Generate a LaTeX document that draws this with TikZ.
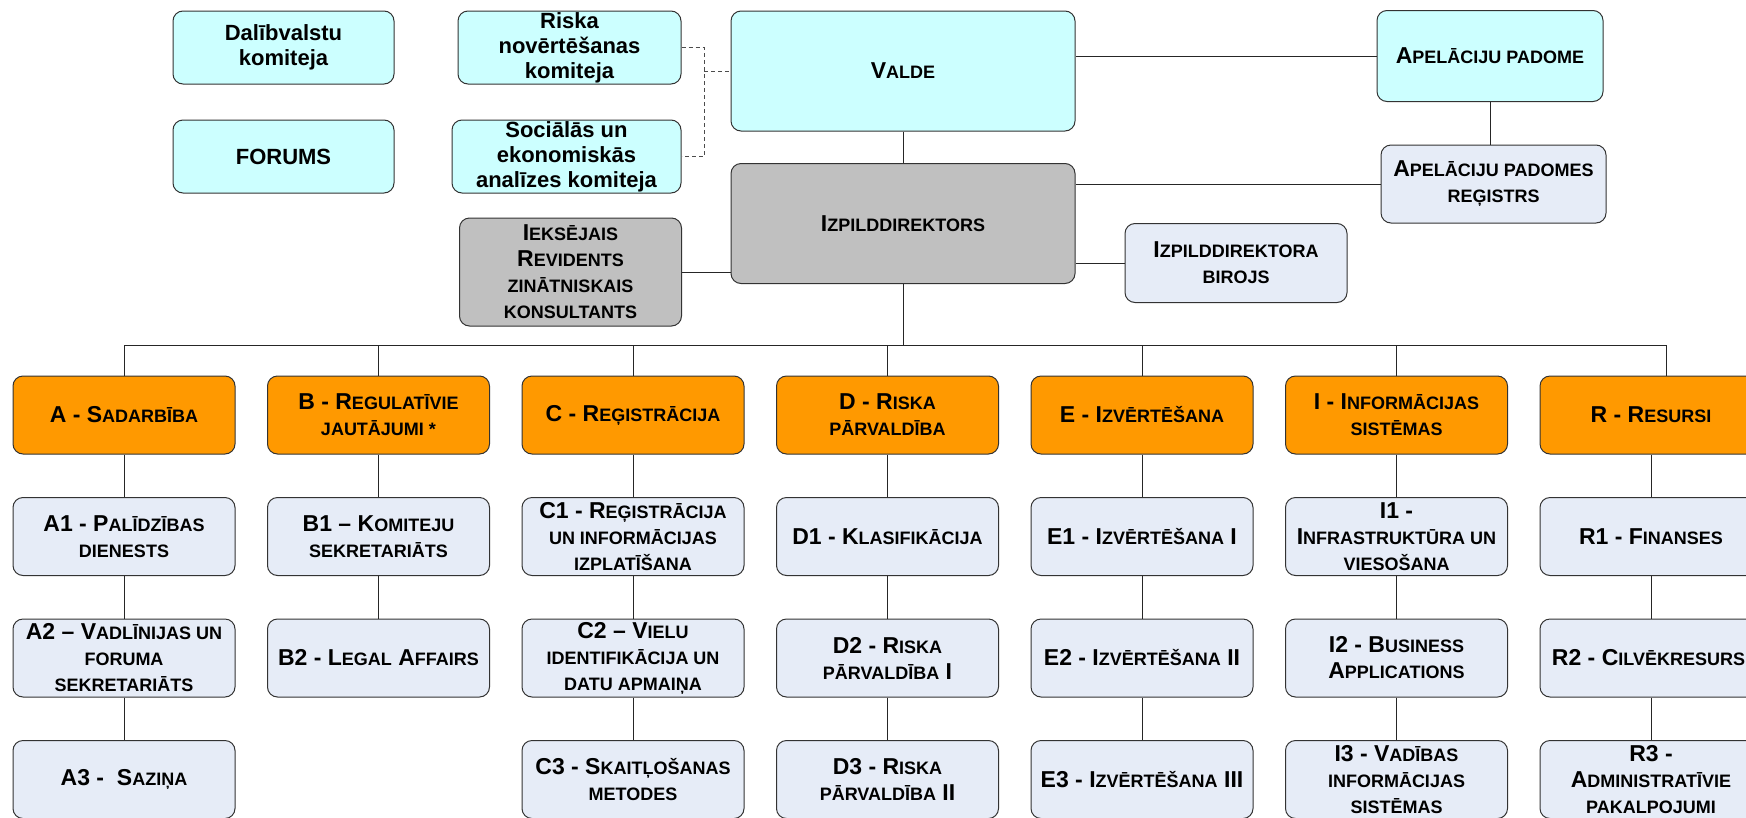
\documentclass[tikz,border=0pt]{standalone}
\usepackage{fontspec}
\setmainfont{Liberation Sans}
\usetikzlibrary{positioning}

\definecolor{padomecyan}{HTML}{CCFFFF}
\definecolor{nodalaorange}{HTML}{FF9900}
\definecolor{vienibablue}{HTML}{E6ECF7}
\definecolor{vadibagrey}{HTML}{C0C0C0}
\newcommand{\mazie}[1]{{\fontsize{18pt}{26pt}\selectfont #1}}

\begin{document}
\begin{tikzpicture}[x=1pt, y=1pt, node distance=42.5pt and 31.5pt,
    every node/.style={font=\fontsize{23pt}{26pt}\selectfont\bfseries, align=center, inner sep=0pt},
    box/.style={draw=black!80, line width=1pt, rounded corners=10pt},
    komiteja/.style={box, fill=padomecyan, minimum height=73pt, font=\fontsize{22pt}{25pt}\selectfont\bfseries},
    padome/.style={box, fill=padomecyan},
    vadiba/.style={box, fill=vadibagrey},
    birojs/.style={box, fill=vienibablue},
    nodala/.style={box, fill=nodalaorange, minimum width=222pt, minimum height=78pt},
    vieniba/.style={box, fill=vienibablue, minimum width=222pt, minimum height=78pt},
    link/.style={draw=black!85, line width=1pt},
    dashlink/.style={draw=black!70, line width=1pt, dash pattern=on 4pt off 3pt}]
    \useasboundingbox (0,0) rectangle (1746,-817);

    \node[komiteja, minimum width=221pt] (dal) at (283.5,-47.5) {Dalībvalstu\\komiteja};
    \node[komiteja, minimum width=221pt] (forums) at (283.5,-156.5) {FORUMS};
    \node[komiteja, minimum width=223pt] (riska) at (569.5,-47.5) {Riska\\novērtēšanas\\komiteja};
    \node[komiteja, minimum width=229pt] (socek) at (566.5,-156.5) {Sociālās un\\ekonomiskās\\analīzes komiteja};
    \node[padome, minimum width=344pt, minimum height=120pt] (valde) at (903,-71) {V\mazie{ALDE}};
    \node[padome, minimum width=226pt, minimum height=91pt] (apel) at (1490,-56) {A\mazie{PELĀCIJU PADOME}};
    \node[birojs, minimum width=225pt, minimum height=78pt] (apelreg) at (1493.5,-184) {A\mazie{PELĀCIJU PADOMES}\\\mazie{REĢISTRS}};
    \node[vadiba, minimum width=344pt, minimum height=120pt] (izp) at (903,-223.5) {I\mazie{ZPILDDIREKTORS}};
    \node[birojs, minimum width=222pt, minimum height=79pt] (birojs) at (1236,-263) {I\mazie{ZPILDDIREKTORA}\\\mazie{BIROJS}};
    \node[vadiba, minimum width=222pt, minimum height=108pt] (ieks) at (570.5,-272) {I\mazie{EKSĒJAIS}\\R\mazie{EVIDENTS}\\\mazie{ZINĀTNISKAIS}\\\mazie{KONSULTANTS}};

    \node[nodala] (a) at (124,-415) {A - S\mazie{ADARBĪBA}};
    \node[nodala, right=of a] (b) {B - R\mazie{EGULATĪVIE}\\\mazie{JAUTĀJUMI *}};
    \node[nodala, right=of b] (c) {C - R\mazie{EĢISTRĀCIJA}};
    \node[nodala, right=of c] (d) {D - R\mazie{ISKA}\\\mazie{PĀRVALDĪBA}};
    \node[nodala, right=of d] (e) {E - I\mazie{ZVĒRTĒŠANA}};
    \node[nodala, right=of e] (i) {I - I\mazie{NFORMĀCIJAS}\\\mazie{SISTĒMAS}};
    \node[nodala, right=of i] (r) {R - R\mazie{ESURSI}};

    \node[vieniba, below=of a] (a1) {A1 - P\mazie{ALĪDZĪBAS}\\\mazie{DIENESTS}};
    \node[vieniba, below=of a1] (a2) {A2 – V\mazie{ADLĪNIJAS UN}\\\mazie{FORUMA}\\\mazie{SEKRETARIĀTS}};
    \node[vieniba, below=of a2] (a3) {A3 - \ S\mazie{AZIŅA}};
    \node[vieniba, below=of b] (b1) {B1 – K\mazie{OMITEJU}\\\mazie{SEKRETARIĀTS}};
    \node[vieniba, below=of b1] (b2) {B2 - L\mazie{EGAL} A\mazie{FFAIRS}};
    \node[vieniba, below=of c] (c1) {C1 - R\mazie{EĢISTRĀCIJA}\\\mazie{UN INFORMĀCIJAS}\\\mazie{IZPLATĪŠANA}};
    \node[vieniba, below=of c1] (c2) {C2 – V\mazie{IELU}\\\mazie{IDENTIFIKĀCIJA UN}\\\mazie{DATU APMAIŅA}};
    \node[vieniba, below=of c2] (c3) {C3 - S\mazie{KAITĻOŠANAS}\\\mazie{METODES}};
    \node[vieniba, below=of d] (d1) {D1 - K\mazie{LASIFIKĀCIJA}};
    \node[vieniba, below=of d1] (d2) {D2 - R\mazie{ISKA}\\\mazie{PĀRVALDĪBA} I};
    \node[vieniba, below=of d2] (d3) {D3 - R\mazie{ISKA}\\\mazie{PĀRVALDĪBA} II};
    \node[vieniba, below=of e] (e1) {E1 - I\mazie{ZVĒRTĒŠANA} I};
    \node[vieniba, below=of e1] (e2) {E2 - I\mazie{ZVĒRTĒŠANA} II};
    \node[vieniba, below=of e2] (e3) {E3 - I\mazie{ZVĒRTĒŠANA} III};
    \node[vieniba, below=of i] (i1) {I1 -\\I\mazie{NFRASTRUKTŪRA UN}\\\mazie{VIESOŠANA}};
    \node[vieniba, below=of i1] (i2) {I2 - B\mazie{USINESS}\\A\mazie{PPLICATIONS}};
    \node[vieniba, below=of i2] (i3) {I3 - V\mazie{ADĪBAS}\\\mazie{INFORMĀCIJAS}\\\mazie{SISTĒMAS}};
    \node[vieniba, below=of r] (r1) {R1 - F\mazie{INANSES}};
    \node[vieniba, below=of r1] (r2) {R2 - C\mazie{ILVĒKRESURSI}};
    \node[vieniba, below=of r2] (r3) {R3 -\\A\mazie{DMINISTRATĪVIE}\\\mazie{PAKALPOJUMI}};

    \coordinate (kom) at (704,-71);
    \coordinate (bus) at (903,-345);

    \draw[dashlink] (riska.east) -| (kom |- socek.east) -- (socek.east);
    \draw[dashlink] (kom) -- (valde.west);
    \draw[link] (valde) -- (izp);
    \draw[link] (apel.west) -- (apel.west -| valde.east);
    \draw[link] (apel.south) -- (apel.south |- apelreg.north);
    \draw[link] (apelreg.west) -- (apelreg.west -| izp.east);
    \draw[link] (birojs.west) -- (birojs.west -| izp.east);
    \draw[link] (ieks.east) -- (ieks.east -| izp.west);

    \draw[link] (izp) -- (bus);
    \draw[link] (a.north) |- ([xshift=15pt]r.north |- bus) -- ([xshift=15pt]r.north);
    \foreach \n in {b,c,d,e,i}
        \draw[link] (\n.north) -- (\n.north |- bus);
    \foreach \n/\m in {a/a1,a1/a2,a2/a3,b/b1,b1/b2,c/c1,c1/c2,c2/c3,d/d1,d1/d2,d2/d3,e/e1,e1/e2,e2/e3,i/i1,i1/i2,i2/i3,r/r1,r1/r2,r2/r3}
        \draw[link] (\n) -- (\m);
\end{tikzpicture}
\end{document}
